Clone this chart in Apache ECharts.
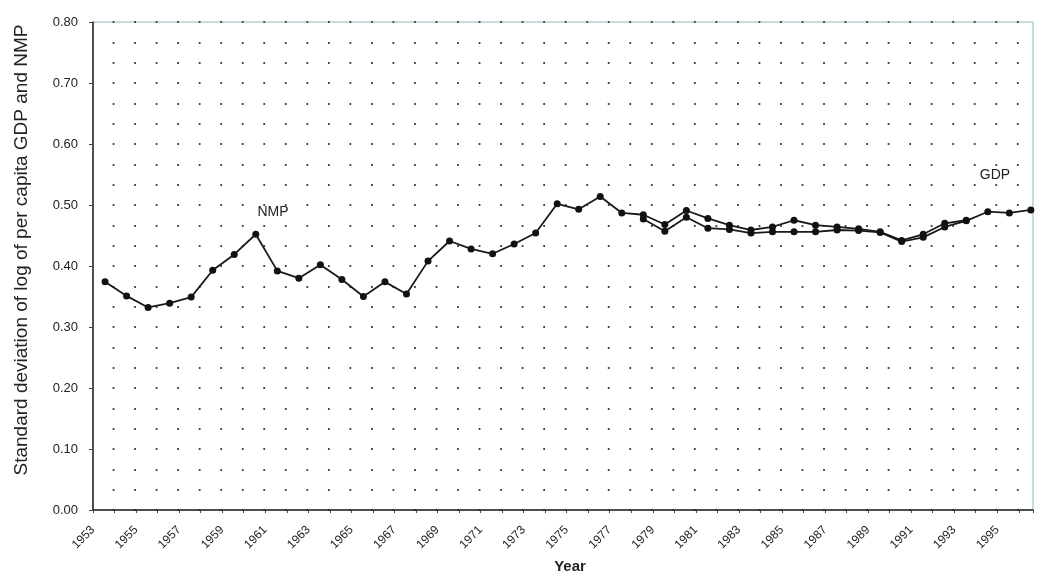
<!DOCTYPE html>
<html>
<head>
<meta charset="utf-8">
<script src="https://cdn.jsdelivr.net/npm/echarts@6/dist/echarts.min.js"></script>
<style>
html,body{margin:0;padding:0;background:#fff;}
#chart{width:1045px;height:575px;}
</style>
</head>
<body>
<div id="chart"></div>
<script>
const years = [1953,1954,1955,1956,1957,1958,1959,1960,1961,1962,1963,1964,1965,1966,1967,1968,1969,1970,1971,1972,1973,1974,1975,1976,1977,1978,1979,1980,1981,1982,1983,1984,1985,1986,1987,1988,1989,1990,1991,1992,1993,1994,1995,1996];
const nmpYears = years.slice(0, 41);   // 1953-1993
const nmpValues = [0.374,0.351,0.332,0.339,0.349,0.393,0.419,0.452,0.392,0.380,0.402,0.378,0.350,0.374,0.354,0.408,0.441,0.428,0.420,0.436,0.454,0.502,0.493,0.514,0.487,0.484,0.468,0.491,0.478,0.467,0.459,0.464,0.475,0.467,0.464,0.461,0.456,0.442,0.452,0.470,0.475];
const gdpYears = years.slice(25);      // 1978-1996
const gdpValues = [0.477,0.457,0.480,0.462,0.460,0.454,0.456,0.456,0.456,0.459,0.458,0.455,0.440,0.447,0.464,0.474,0.489,0.487,0.492];
const yearLabels = ['1953','1955','1957','1959','1961','1963','1965','1967','1969','1971','1973','1975','1977','1979','1981','1983','1985','1987','1989','1991','1993','1995'];
const yTickLabels = ['0.00','0.10','0.20','0.30','0.40','0.50','0.60','0.70','0.80'];

const chart = echarts.init(document.getElementById('chart'), null, {renderer:'canvas'});
const pxPerYear = 940 / (1996.1 - 1952.44);
const dotStyle = {color:'#444', width:1.8, type:[1.8, pxPerYear - 1.8], dashOffset:1 + 0.9};

const option = {
  backgroundColor:'#ffffff',
  animation:false,
  grid:{left:93, right:12, top:22, bottom:65, show:true, borderColor:'#8fb8bf', borderWidth:1, backgroundColor:'transparent'},
  xAxis:{
    type:'value', min:1952.44, max:1996.1, interval:1,
    axisLine:{show:true, lineStyle:{color:'#222', width:1.5}},
    axisTick:{show:true, length:3, lineStyle:{color:'#444'}},
    axisLabel:{
      rotate:45, margin:18, fontSize:12, color:'#222', fontFamily:'Liberation Sans, Arial',
      formatter:function(v){
        const y = String(Math.ceil(v - 1e-6));
        return yearLabels.indexOf(y) >= 0 ? y : '';
      }
    },
    splitLine:{show:false}
  },
  yAxis:{
    type:'value', min:0, max:0.8, interval:0.1,
    axisLine:{show:true, lineStyle:{color:'#222', width:1.5}},
    axisTick:{show:true, length:4, lineStyle:{color:'#444'}},
    axisLabel:{
      margin:15, fontSize:13, color:'#222', fontFamily:'Liberation Sans, Arial',
      formatter:function(v){ return yTickLabels[Math.round(v*10)]; }
    },
    splitLine:{show:true, lineStyle:dotStyle},
    minorTick:{show:false, splitNumber:3},
    minorSplitLine:{show:true, lineStyle:dotStyle}
  },
  graphic:[
    {type:'text', x:22, y:250, rotation:Math.PI/2,
     style:{text:'Standard deviation of log of per capita GDP and NMP', font:'19px "Liberation Sans", Arial', fill:'#222', textAlign:'center', textVerticalAlign:'middle'}},
    {type:'text', x:570, y:567,
     style:{text:'Year', font:'bold 15px "Liberation Sans", Arial', fill:'#222', textAlign:'center', textVerticalAlign:'middle'}},
    {type:'text', x:273, y:212,
     style:{text:'NMP', font:'14px "Liberation Sans", Arial', fill:'#222', textAlign:'center', textVerticalAlign:'middle'}},
    {type:'text', x:995, y:175,
     style:{text:'GDP', font:'14px "Liberation Sans", Arial', fill:'#222', textAlign:'center', textVerticalAlign:'middle'}}
  ],
  series:[
    {name:'NMP', type:'line', data:nmpYears.map((y,i)=>[y, nmpValues[i]]),
     symbol:'circle', symbolSize:7, itemStyle:{color:'#111'}, lineStyle:{color:'#1a1a1a', width:1.8}},
    {name:'GDP', type:'line', data:gdpYears.map((y,i)=>[y, gdpValues[i]]),
     symbol:'circle', symbolSize:7, itemStyle:{color:'#111'}, lineStyle:{color:'#1a1a1a', width:1.8}}
  ]
};
chart.setOption(option);
</script>
</body>
</html>
